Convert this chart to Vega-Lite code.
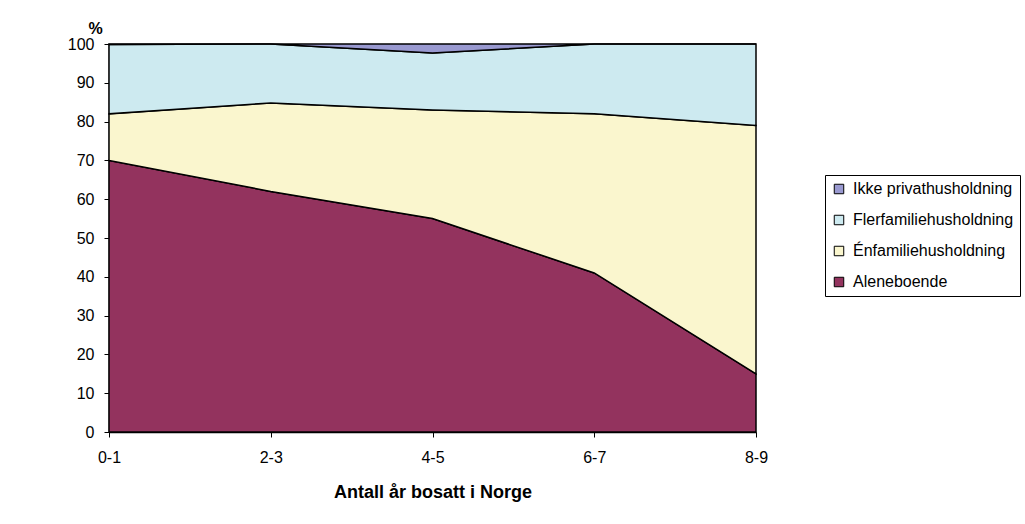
{
  "$schema": "https://vega.github.io/schema/vega-lite/v6.json",
  "width": 647,
  "height": 388,
  "autosize": "none",
  "padding": {"left": 109, "top": 44, "right": 269, "bottom": 92},
  "background": "white",
  "config": {
    "font": "Liberation Sans",
    "view": {"stroke": null}
  },
  "data": {
    "values": [
      {"år": "0-1", "type": "Aleneboende", "ord": 1, "pct": 70},
      {"år": "2-3", "type": "Aleneboende", "ord": 1, "pct": 62},
      {"år": "4-5", "type": "Aleneboende", "ord": 1, "pct": 55},
      {"år": "6-7", "type": "Aleneboende", "ord": 1, "pct": 41},
      {"år": "8-9", "type": "Aleneboende", "ord": 1, "pct": 15},
      {"år": "0-1", "type": "Énfamiliehusholdning", "ord": 2, "pct": 12},
      {"år": "2-3", "type": "Énfamiliehusholdning", "ord": 2, "pct": 22.8},
      {"år": "4-5", "type": "Énfamiliehusholdning", "ord": 2, "pct": 28},
      {"år": "6-7", "type": "Énfamiliehusholdning", "ord": 2, "pct": 41},
      {"år": "8-9", "type": "Énfamiliehusholdning", "ord": 2, "pct": 64},
      {"år": "0-1", "type": "Flerfamiliehusholdning", "ord": 3, "pct": 17.9},
      {"år": "2-3", "type": "Flerfamiliehusholdning", "ord": 3, "pct": 15.2},
      {"år": "4-5", "type": "Flerfamiliehusholdning", "ord": 3, "pct": 14.7},
      {"år": "6-7", "type": "Flerfamiliehusholdning", "ord": 3, "pct": 18},
      {"år": "8-9", "type": "Flerfamiliehusholdning", "ord": 3, "pct": 21},
      {"år": "0-1", "type": "Ikke privathusholdning", "ord": 4, "pct": 0.1},
      {"år": "2-3", "type": "Ikke privathusholdning", "ord": 4, "pct": 0},
      {"år": "4-5", "type": "Ikke privathusholdning", "ord": 4, "pct": 2.3},
      {"år": "6-7", "type": "Ikke privathusholdning", "ord": 4, "pct": 0},
      {"år": "8-9", "type": "Ikke privathusholdning", "ord": 4, "pct": 0}
    ]
  },
  "mark": {"type": "area", "stroke": "black", "strokeWidth": 1.5, "opacity": 1},
  "encoding": {
    "x": {
      "field": "år",
      "type": "ordinal",
      "scale": {"type": "point", "padding": 0},
      "axis": {
        "title": "Antall år bosatt i Norge",
        "titleFont": "Liberation Sans",
        "titleFontSize": 18,
        "titleFontWeight": "bold",
        "titleColor": "black",
        "titlePadding": 18,
        "labelAngle": 0,
        "labelFontSize": 16,
        "labelColor": "black",
        "labelPadding": 12,
        "tickSize": 5,
        "tickColor": "black",
        "domainColor": "black",
        "domainWidth": 1.5
      }
    },
    "y": {
      "field": "pct",
      "type": "quantitative",
      "stack": "zero",
      "scale": {"domain": [0, 100], "nice": false},
      "axis": {
        "title": "%",
        "titleAngle": 0,
        "titleX": -14,
        "titleY": -11,
        "titleAlign": "center",
        "titleBaseline": "alphabetic",
        "titleFontSize": 16,
        "titleFontWeight": "bold",
        "titleColor": "black",
        "values": [0, 10, 20, 30, 40, 50, 60, 70, 80, 90, 100],
        "grid": false,
        "labelFontSize": 16,
        "labelColor": "black",
        "labelPadding": 10,
        "tickSize": 5,
        "tickColor": "black",
        "domainColor": "black",
        "domainWidth": 1.5
      }
    },
    "color": {
      "field": "type",
      "type": "nominal",
      "scale": {
        "domain": ["Ikke privathusholdning", "Flerfamiliehusholdning", "Énfamiliehusholdning", "Aleneboende"],
        "range": ["#9999d0", "#cdeaf0", "#faf6ce", "#93335e"]
      },
      "legend": {
        "title": null,
        "orient": "none",
        "legendX": 716,
        "legendY": 131,
        "symbolType": "square",
        "symbolSize": 90,
        "symbolStrokeColor": "black",
        "symbolStrokeWidth": 1,
        "symbolOpacity": 1,
        "labelFontSize": 16,
        "labelColor": "black",
        "labelOffset": 6,
        "rowPadding": 15,
        "padding": 6,
        "strokeColor": "black",
        "labelLimit": 300
      }
    },
    "order": {"field": "ord", "type": "quantitative"}
  }
}
